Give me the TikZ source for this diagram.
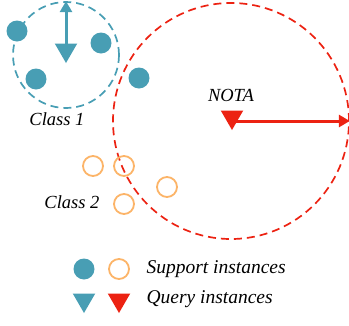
\documentclass[tikz,border=0pt]{standalone}
\usepackage{fontspec}
\setmainfont{Liberation Serif}
\usetikzlibrary{arrows.meta, positioning, shapes.geometric}
\definecolor{support}{RGB}{72, 158, 180}
\definecolor{other}{RGB}{252, 180, 104}
\definecolor{nota}{RGB}{236, 34, 18}

\begin{document}
\begin{tikzpicture}[
        x=1pt, y=-1pt,
        dot/.style={circle, fill=support, inner sep=0pt, minimum size=21pt},
        ring/.style={circle, draw=other, line width=1.8pt, inner sep=0pt, minimum size=20pt},
        query/.style={regular polygon, regular polygon sides=3, shape border rotate=180,
                      inner sep=0pt, minimum size=26pt},
        region/.style={circle, draw, line width=1.7pt, inner sep=0pt,
                       dash pattern=on 8pt off 5pt},
        label/.style={font=\fontsize{18.5}{22}\selectfont\itshape},
        arrow/.style={-{Triangle[length=11pt, width=12pt]}, line width=3pt},
    ]
        \useasboundingbox (0,0) rectangle (349,325);

        % regions
        \node[region, draw=support, minimum size=106pt] (class1) at (66,55) {};
        \node[region, draw=nota, minimum size=236pt] (nota) at (231,121) {};

        % class 1
        \node[dot] (a1) at (17,31) {};
        \node[dot] (a2) at (101,43) {};
        \node[dot] (a3) at (36,79) {};
        \node[dot] (a4) at (139,78) {};
        \draw[arrow, support] (class1.center) -- (class1.north);
        \node[query, fill=support] (q1) at (66,50) {};
        \node[label] (c1) at (57,119) {Class 1};

        % class 2
        \node[ring] (b1) at (93,166) {};
        \node[ring] (b2) at (124,166) {};
        \node[ring] (b3) at (167,187) {};
        \node[ring] (b4) at (124,204) {};
        \node[label] (c2) at (72,202) {Class 2};

        % NOTA
        \draw[arrow, nota] (nota.center) -- (nota.east);
        \node[query, fill=nota] (q2) at (232,117) {};
        \node[label] (nl) at (231,95) {NOTA};

        % legend
        \node[dot] (ls1) at (84,269) {};
        \node[ring] (ls2) at (119,269) {};
        \node[query, fill=support] (lq1) at (84,300) {};
        \node[query, fill=nota] (lq2) at (119,300) {};
        \node[label, anchor=west, font=\fontsize{19.5}{22}\selectfont\itshape] (lt1) at (143,269) {Support instances};
        \node[label, anchor=west, font=\fontsize{19.5}{22}\selectfont\itshape] (lt2) at (143,299) {Query instances};
    \end{tikzpicture}
\end{document}
